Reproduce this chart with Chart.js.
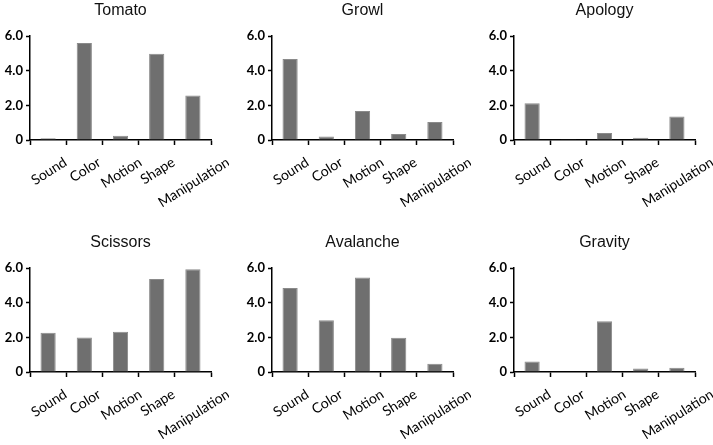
<!DOCTYPE html>
<html>
<head>
<meta charset="utf-8">
<script src="https://cdn.jsdelivr.net/npm/chart.js@4/dist/chart.umd.min.js"></script>
<style>
  body { margin: 0; background: #fff; }
  #wrap { position: relative; width: 713px; height: 445px; overflow: hidden; }
  .cell { position: absolute; width: 229px; height: 213px; }
</style>
</head>
<body>
<div id="wrap">
  <div class="cell" style="left:0px;top:0px"><canvas id="chart0"></canvas></div>
  <div class="cell" style="left:242px;top:0px"><canvas id="chart1"></canvas></div>
  <div class="cell" style="left:484px;top:0px"><canvas id="chart2"></canvas></div>
  <div class="cell" style="left:0px;top:232px"><canvas id="chart3"></canvas></div>
  <div class="cell" style="left:242px;top:232px"><canvas id="chart4"></canvas></div>
  <div class="cell" style="left:484px;top:232px"><canvas id="chart5"></canvas></div>
</div>
<script>
// categories shared by every panel
const categories = ["Sound", "Color", "Motion", "Shape", "Manipulation"];
const y_ticks = [0, 2, 4, 6];

// one series per word
const tomato = [0.1, 5.6, 0.25, 4.97, 2.57];
const growl = [4.67, 0.2, 1.67, 0.35, 1.04];
const apology = [2.12, 0.05, 0.4, 0.13, 1.35];
const scissors = [2.26, 1.99, 2.32, 5.37, 5.93];
const avalanche = [4.85, 2.98, 5.45, 1.97, 0.48];
const gravity = [0.6, 0.03, 2.93, 0.2, 0.24];

const titles = ["Tomato", "Growl", "Apology", "Scissors", "Avalanche", "Gravity"];
const series = [tomato, growl, apology, scissors, avalanche, gravity];

const label_font = "14px Lato, 'Open Sans', sans-serif";
const label_angle = 32 * Math.PI / 180;

// draws the title over the plot and the slanted category labels
const panel_text = {
  id: "panel_text",
  afterDraw(chart, args, opts) {
    const ctx = chart.ctx;
    const area = chart.chartArea;
    const xs = chart.scales.x;
    ctx.save();
    ctx.fillStyle = "#111";
    ctx.font = "16px 'Liberation Sans', Arial, sans-serif";
    ctx.textAlign = "center";
    ctx.textBaseline = "middle";
    ctx.fillText(opts.title, (area.left + area.right) / 2, 11);

    ctx.fillStyle = "#000";
    ctx.font = label_font;
    categories.forEach((c, i) => {
      const w = ctx.measureText(c).width;
      const h = 14;
      const box_h = w * Math.sin(label_angle) + h * Math.cos(label_angle);
      const cx = xs.getPixelForValue(i) + 1;
      const cy = area.bottom + 15 + box_h / 2;
      ctx.save();
      ctx.translate(cx, cy);
      ctx.rotate(-label_angle);
      ctx.fillText(c, 0, 0);
      ctx.restore();
    });
    ctx.restore();
  },
};

function make_chart(index) {
  const ctx = document.getElementById("chart" + index);
  return new Chart(ctx, {
    type: "bar",
    data: {
      labels: categories,
      datasets: [
        {
          data: series[index],
          backgroundColor: "#6f6f6f",
          borderColor: "#8a8a8a",
          borderWidth: 1,
          barPercentage: 0.84,
          categoryPercentage: 0.5,
        },
      ],
    },
    options: {
      responsive: true,
      maintainAspectRatio: false,
      animation: false,
      layout: { padding: { top: 36, right: 18, bottom: 67, left: 0 } },
      plugins: {
        legend: { display: false },
        tooltip: { enabled: false },
        panel_text: { title: titles[index] },
      },
      scales: {
        x: {
          afterFit: (scale) => { scale.height = 6; },
          grid: {
            offset: true,
            drawOnChartArea: false,
            tickLength: 5,
            tickWidth: 1.5,
            tickColor: "#000",
          },
          border: { color: "#000", width: 1.5 },
          ticks: { display: false },
        },
        y: {
          min: 0,
          max: 6,
          afterFit: (scale) => { scale.width = 30; },
          afterBuildTicks: (scale) => {
            scale.ticks = y_ticks.map((v) => ({ value: v }));
          },
          grid: {
            drawOnChartArea: false,
            tickLength: 4,
            tickWidth: 1.5,
            tickColor: "#000",
          },
          border: { color: "#000", width: 1.5 },
          ticks: {
            padding: 3,
            color: "#000",
            font: { family: "Lato, 'Open Sans', sans-serif", size: 13, weight: "bold" },
            callback: (v) => (v === 0 ? "0" : v.toFixed(1)),
          },
        },
      },
    },
    plugins: [panel_text],
  });
}

for (let i = 0; i < 6; i++) make_chart(i);
</script>
</body>
</html>
